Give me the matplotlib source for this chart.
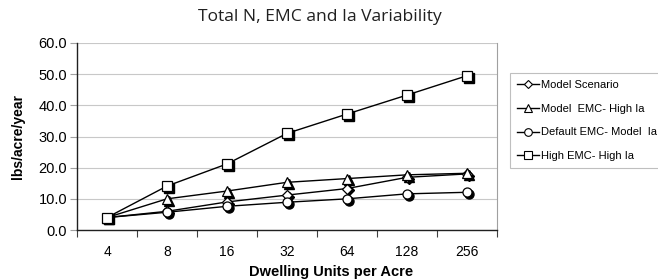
import matplotlib
matplotlib.use('Agg')
import matplotlib.pyplot as plt
import matplotlib.transforms as mtransforms
import numpy as np

# data
categories = ['4', '8', '16', '32', '64', '128', '256']
model_scenario = [4.0, 6.0, 9.0, 11.2, 13.3, 16.9, 18.0]
model_emc_high_ia = [4.0, 10.0, 12.5, 15.3, 16.5, 17.7, 18.2]
default_emc_model_ia = [4.0, 5.7, 7.6, 8.9, 10.0, 11.6, 12.1]
high_emc_high_ia = [4.0, 14.1, 21.2, 31.0, 37.2, 43.3, 49.5]

series = [
    ('Model Scenario', model_scenario, 'D', 5.0),
    ('Model  EMC- High Ia', model_emc_high_ia, '^', 6.5),
    ('Default EMC- Model  Ia', default_emc_model_ia, 'o', 6.5),
    ('High EMC- High Ia', high_emc_high_ia, 's', 6.5),
]

plt.rcParams['font.family'] = ['Liberation Sans', 'DejaVu Sans']

fig = plt.figure(figsize=(6.58, 2.79), dpi=100)
ax = fig.add_axes([77 / 658, 1 - 230 / 279, 420 / 658, 187 / 279])

x = np.arange(len(categories))
# markers carry a small black drop shadow, down and to the right
shadow = mtransforms.offset_copy(ax.transData, fig=fig, x=1.8, y=-1.8, units='dots')

handles = []
for name, vals, mk, ms in series:
    ax.plot(x, vals, linestyle='none', marker=mk, markersize=ms,
            color='black', transform=shadow, zorder=3)
    h, = ax.plot(x, vals, color='black', linewidth=1.0, marker=mk,
                 markersize=ms, markerfacecolor='white',
                 markeredgecolor='black', markeredgewidth=0.9, zorder=4)
    handles.append((name, mk))

ax.set_xlim(-0.5, len(categories) - 0.5)
ax.set_ylim(0, 60)
ax.set_yticks(np.arange(0, 61, 10))
ax.set_yticklabels([f'{v:.1f}' for v in np.arange(0, 61, 10)], fontsize=10.5)
ax.set_xticks(x)
ax.set_xticklabels(categories, fontsize=10)
ax.set_xticks(np.arange(-0.5, len(categories), 1), minor=True)
ax.tick_params(axis='x', which='major', length=0, pad=11)
ax.tick_params(axis='x', which='minor', length=5, color='#404040', width=0.8)
ax.tick_params(axis='y', length=5, color='#a0a0a0', width=0.8, pad=2)

ax.grid(axis='y', color='#c8c8c8', linewidth=0.8)
ax.set_axisbelow(True)
ax.spines['top'].set_visible(False)
ax.spines['right'].set_color('#a0a0a0')
ax.spines['right'].set_linewidth(0.8)
for side in ['left', 'bottom']:
    ax.spines[side].set_color('#202020')
    ax.spines[side].set_linewidth(1.0)

fig.text(331 / 658, 1 - 272 / 279, 'Dwelling Units per Acre', fontsize=10.5,
         fontweight='bold', ha='center', va='center')
ax.set_ylabel('lbs/acre/year', fontsize=10, fontweight='bold', labelpad=10)

fig.text(320 / 658, 1 - 17 / 279, 'Total N, EMC and Ia Variability',
         fontsize=12.6, family=['Open Sans', 'DejaVu Sans'],
         ha='center', va='center', color='#202020')

leg_handles = [plt.Line2D([], [], color='black', linewidth=1.0, marker=mk,
                          markersize=4.5 if mk == 'D' else 5.5,
                          markerfacecolor='white',
                          markeredgecolor='black', markeredgewidth=0.8)
               for name, mk in handles]
leg = fig.legend(leg_handles, [n for n, m in handles], loc='upper left',
                 bbox_to_anchor=(510 / 658, 1 - 73 / 279), fontsize=8,
                 frameon=True, fancybox=False, handlelength=2.0,
                 handletextpad=0.15, labelspacing=1.25, borderpad=0.6,
                 borderaxespad=0)
leg.get_frame().set_edgecolor('#b0b0b0')
leg.get_frame().set_linewidth(0.8)

fig.savefig('out.png', dpi=100)
